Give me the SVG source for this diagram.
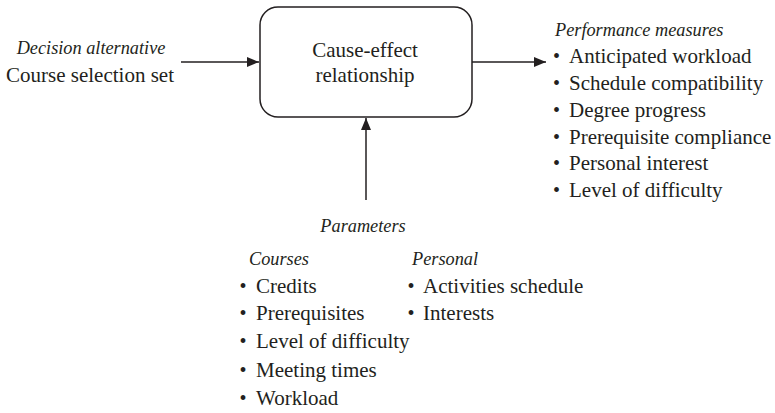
<svg xmlns="http://www.w3.org/2000/svg" width="775" height="413" viewBox="0 0 775 413" font-family="'Liberation Serif', 'Times New Roman', serif">
  <style>
    text { fill: #231f20; }
    .main { font-size: 21px; }
    .label { font-size: 18.3px; font-style: italic; }
    .dot { font-size: 20px; text-anchor: middle; }
    .box { fill: #ffffff; stroke: #231f20; stroke-width: 1.5; }
    .wire { stroke: #231f20; stroke-width: 1.5; fill: none; }
  </style>
  <defs>
    <marker id="arrow" viewBox="0 0 12 10" refX="12" refY="5" markerWidth="12" markerHeight="10" markerUnits="userSpaceOnUse" orient="auto">
      <path d="M0,0 L12,5 L0,10 Z" fill="#231f20"/>
    </marker>
  </defs>

  <rect width="775" height="413" fill="#ffffff"/>

  <!-- connectors -->
  <g id="connectors">
    <line class="wire" x1="181" y1="62" x2="259" y2="62" marker-end="url(#arrow)"/>
    <line class="wire" x1="472" y1="62" x2="546" y2="62" marker-end="url(#arrow)"/>
    <line class="wire" x1="366" y1="200" x2="366" y2="118" marker-end="url(#arrow)"/>
  </g>

  <!-- central process box -->
  <g id="cause-effect">
    <rect class="box" x="260" y="7" width="212" height="110" rx="18" ry="18"/>
    <text class="main" x="365" y="57" text-anchor="middle">Cause-effect</text>
    <text class="main" x="365" y="82" text-anchor="middle">relationship</text>
  </g>

  <!-- input on the left -->
  <g id="decision-alternative">
    <text class="label" x="91" y="54" text-anchor="middle">Decision alternative</text>
    <text class="main" x="90" y="82" text-anchor="middle">Course selection set</text>
  </g>

  <!-- outputs on the right -->
  <g id="performance-measures">
    <text class="label" x="555" y="36">Performance measures</text>
    <text class="dot" x="556.5" y="63">•</text>
    <text class="main" x="569" y="63">Anticipated workload</text>
    <text class="dot" x="556.5" y="90">•</text>
    <text class="main" x="569" y="90">Schedule compatibility</text>
    <text class="dot" x="556.5" y="117">•</text>
    <text class="main" x="569" y="117">Degree progress</text>
    <text class="dot" x="556.5" y="144">•</text>
    <text class="main" x="569" y="144">Prerequisite compliance</text>
    <text class="dot" x="556.5" y="170">•</text>
    <text class="main" x="569" y="170">Personal interest</text>
    <text class="dot" x="556.5" y="197">•</text>
    <text class="main" x="569" y="197">Level of difficulty</text>
  </g>

  <!-- parameters below -->
  <g id="parameters">
    <text class="label" x="363" y="232" text-anchor="middle">Parameters</text>
  </g>

  <g id="courses">
    <text class="label" x="249" y="265">Courses</text>
    <text class="dot" x="243" y="293">•</text>
    <text class="main" x="256" y="293">Credits</text>
    <text class="dot" x="243" y="320">•</text>
    <text class="main" x="256" y="320">Prerequisites</text>
    <text class="dot" x="243" y="348">•</text>
    <text class="main" x="256" y="348">Level of difficulty</text>
    <text class="dot" x="243" y="377">•</text>
    <text class="main" x="256" y="377">Meeting times</text>
    <text class="dot" x="243" y="405">•</text>
    <text class="main" x="256" y="405">Workload</text>
  </g>

  <g id="personal">
    <text class="label" x="412" y="265">Personal</text>
    <text class="dot" x="411" y="293">•</text>
    <text class="main" x="423" y="293">Activities schedule</text>
    <text class="dot" x="411" y="320">•</text>
    <text class="main" x="423" y="320">Interests</text>
  </g>
</svg>
